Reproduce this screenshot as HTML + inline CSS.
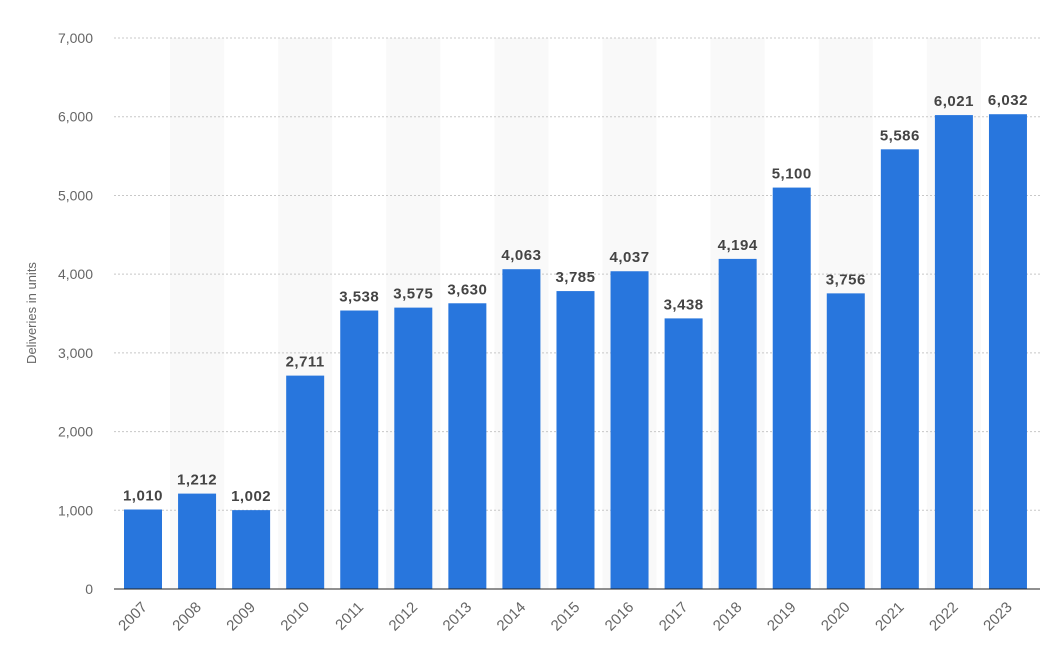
<!DOCTYPE html>
<html><head><meta charset="utf-8"><style>
body{margin:0;background:#fff;}
svg{display:block;font-family:"Liberation Sans",sans-serif;}
</style></head><body>
<svg width="1048" height="668" xmlns="http://www.w3.org/2000/svg">
<g id="stripes" fill="#f9f9f9"></g>
<g id="grid" stroke="#c8c8c8" stroke-dasharray="2,2" stroke-width="1"></g>
<g id="ylab" font-size="14" fill="#666" text-anchor="end"></g>
<g id="bars" fill="#2876dd"></g>
<line x1="114" x2="1040" y1="589" y2="589" stroke="#222" stroke-width="1"/>
<g id="vals" font-size="15" font-weight="bold" fill="#444" text-anchor="middle" letter-spacing="0.5"></g>
<g id="xlab" font-size="15" fill="#666" text-anchor="end"></g>
<text x="36" y="313" font-size="13" fill="#666" text-anchor="middle" transform="rotate(-90 36 313)">Deliveries in units</text>
</svg>
<script>
const ns="http://www.w3.org/2000/svg";
const data=[1010,1212,1002,2711,3538,3575,3630,4063,3785,4037,3438,4194,5100,3756,5586,6021,6032];
const y0=589,k=78.71/1000,c0=143,step=54.06,bw=38;
function el(p,t,a,txt){const e=document.createElementNS(ns,t);for(const x in a)e.setAttribute(x,a[x]);if(txt!==undefined)e.textContent=txt;document.getElementById(p).appendChild(e);}
for(let i=0;i<17;i++){if(i%2==1)el("stripes","rect",{x:c0+i*step-step/2,y:38,width:step,height:551});}
for(let v=0;v<=7000;v+=1000){const y=y0-v*k;el("grid","line",{x1:114,x2:1040,y1:y,y2:y});el("ylab","text",{x:93,y:y+5},v.toLocaleString("en-US"));}
data.forEach((v,i)=>{const c=c0+i*step,y=y0-v*k;
el("bars","rect",{x:c-bw/2,y:y,width:bw,height:y0-y});
el("vals","text",{x:c,y:y-9},v.toLocaleString("en-US"));
const yr=2007+i;el("xlab","text",{x:c+5,y:608,transform:`rotate(-45 ${c+5} 608)`},yr);});
</script>
</body></html>
